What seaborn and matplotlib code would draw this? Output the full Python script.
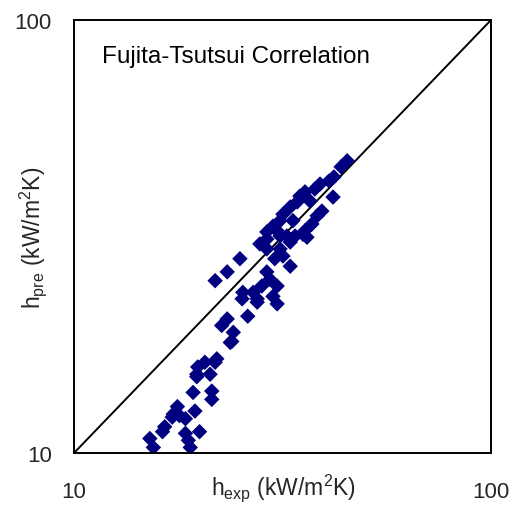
import matplotlib
matplotlib.use("Agg")
import matplotlib.pyplot as plt
import seaborn as sns
import numpy as np
import pandas as pd

h_exp = [45.2, 43.7, 42.0, 40.9, 38.9, 41.8, 37.8, 35.8, 34.8, 34.3,
         36.8, 39.3, 38.3, 33.0, 31.7, 31.2, 33.5, 37.2, 35.8, 30.0,
         29.0, 30.7, 32.4, 33.9, 36.2, 29.0, 31.2, 33.0, 35.4, 27.9,
         29.0, 31.2, 31.7, 33.0, 30.3, 25.0, 23.3, 21.8, 29.0, 29.5,
         28.2, 30.7, 26.9, 25.4, 25.3, 27.5, 30.0, 30.7, 26.1, 27.5,
         23.3, 22.6, 24.1, 23.9, 22.0, 20.6, 19.8, 21.8, 19.7, 21.2,
         19.3, 21.4, 21.4, 17.7, 19.5, 17.2, 18.5, 16.5, 16.3, 20.0,
         18.5, 18.8, 15.2, 15.5, 19.0, 17.9, 17.3, 19.7, 23.7]
h_pre = [47.3, 45.8, 43.4, 42.5, 41.8, 39.0, 40.7, 40.1, 39.2, 38.0,
         38.2, 36.2, 35.3, 37.0, 35.6, 34.4, 34.4, 33.8, 32.6, 33.4,
         32.4, 32.6, 31.7, 31.7, 31.5, 31.2, 31.7, 30.7, 32.0, 30.4,
         29.6, 29.6, 28.5, 27.0, 28.1, 28.1, 26.2, 25.0, 26.2, 25.2,
         24.3, 24.3, 23.5, 23.5, 22.7, 22.7, 23.0, 22.1, 20.7, 22.3,
         20.4, 19.7, 19.0, 18.1, 16.5, 16.2, 15.8, 16.2, 15.2, 15.2,
         13.8, 13.9, 13.3, 12.8, 12.5, 12.1, 12.0, 11.5, 11.2, 11.2,
         11.1, 10.7, 10.8, 10.3, 10.3, 12.2, 12.3, 15.0, 18.0]
axis_limits = [10, 100]
tick_values = [10, 100]
tick_labels = ["10", "100"]
title_text = "Fujita-Tsutsui Correlation"

sns.set_style("white")
plt.rcParams['font.family'] = ['Liberation Sans', 'DejaVu Sans']
plt.rcParams['mathtext.fontset'] = 'custom'
plt.rcParams['mathtext.rm'] = 'Liberation Sans'
plt.rcParams['mathtext.it'] = 'Liberation Sans'

df = pd.DataFrame({"h_exp": h_exp, "h_pre": h_pre})

fig = plt.figure(figsize=(5.17, 5.06), dpi=100)
ax = fig.add_axes([74/517, 1-454/506, 417/517, 433/506])

ax.plot(axis_limits, axis_limits, color='black', lw=1.4, zorder=1)
sns.scatterplot(data=df, x="h_exp", y="h_pre", marker='D', s=62,
                color='#000080', edgecolor='none', linewidth=0, ax=ax, zorder=2)

ax.set_xscale('log')
ax.set_yscale('log')
ax.set_xlim(axis_limits)
ax.set_ylim(axis_limits)
ax.set_xticks(tick_values)
ax.set_xticklabels(tick_labels)
ax.set_yticks(tick_values)
ax.set_yticklabels(tick_labels)
ax.minorticks_off()
ax.tick_params(axis='x', length=0, pad=20, labelsize=16)
ax.tick_params(axis='y', length=0, pad=16, labelsize=16)

for sp in ax.spines.values():
    sp.set_color('black')
    sp.set_linewidth(1.4)

ax.set_xlabel(r"$\mathregular{h_{exp}}$ (kW/m$\mathregular{^2}$K)", fontsize=16.5)
ax.xaxis.label.set_va('center')
ax.xaxis.set_label_coords(0.502, -0.078)
ax.set_ylabel(r"$\mathregular{h_{pre}}$ (kW/m$\mathregular{^2}$K)", fontsize=16.5)
ax.yaxis.label.set_va('center')
ax.yaxis.set_label_coords(-0.098, 0.5)

ax.text(0.066, 0.917, title_text, transform=ax.transAxes, fontsize=17.5,
        ha='left', va='center', color='black')

fig.savefig("out.png", dpi=100)
